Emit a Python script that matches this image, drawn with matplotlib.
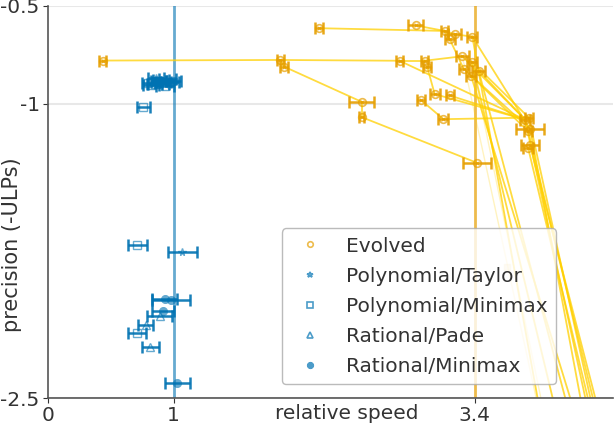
import matplotlib
matplotlib.use("Agg")
import matplotlib.pyplot as plt
from matplotlib.lines import Line2D

plt.rcParams['axes.unicode_minus'] = False

ORANGE = '#E69F00'
BLUE = '#0072B2'
GOLD = '#FFD000'

# evolved points: speed, precision, speed error
evo_x = [0.434, 1.85, 1.88, 2.16, 2.93, 3.16, 3.24, 3.20, 3.38, 2.80,
         3.00, 3.02, 3.30, 3.375, 3.31, 3.43, 3.37, 3.08, 3.20, 2.50,
         2.50, 2.97, 3.15, 3.415, 3.80, 3.83, 3.84, 3.825, 3.84, 3.825]
evo_y = [-0.779, -0.776, -0.81, -0.614, -0.60, -0.628, -0.645, -0.67, -0.657, -0.78,
         -0.78, -0.81, -0.757, -0.784, -0.82, -0.83, -0.857, -0.95, -0.957, -0.99,
         -1.068, -0.98, -1.078, -1.30, -1.08, -1.07, -1.128, -1.14, -1.21, -1.226]
evo_err = [0.03, 0.03, 0.03, 0.03, 0.06, 0.03, 0.05, 0.04, 0.04, 0.03,
           0.03, 0.03, 0.05, 0.04, 0.04, 0.05, 0.04, 0.04, 0.03, 0.10,
           0.02, 0.03, 0.04, 0.11, 0.04, 0.03, 0.11, 0.03, 0.075, 0.04]

# faint evolved point
faint_x = [3.66]
faint_y = [-1.83]

# lineage links between evolved points (index pairs)
links = [(0, 1), (1, 9), (9, 10), (10, 12), (1, 2), (2, 19), (19, 20), (20, 23),
         (3, 5), (4, 5), (5, 6), (6, 8), (5, 7), (7, 14), (11, 17),
         (9, 24), (17, 24), (18, 24), (21, 22), (22, 25),
         (12, 24), (13, 25), (14, 26), (15, 24), (16, 27), (8, 26)]

# links to descendants below the visible range
off_from = [8, 13, 15, 16, 24, 25, 27, 28, 29, 26]
off_x = [3.956, 4.095, 4.203, 4.256, 4.348, 4.389, 4.416, 4.44, 4.375, 4.30]
off_y = [-2.7, -2.7, -2.7, -2.7, -2.7, -2.7, -2.7, -2.7, -2.7, -2.7]

faint_from = [12, 13]
faint_to_x = [3.956, 3.99]
faint_to_y = [-2.7, -2.7]

# baselines
base = {
    'Polynomial/Taylor': dict(
        x=[1.07, 0.95, 0.92, 0.86], y=[-1.757, -0.875, -0.89, -0.87],
        err=[0.115, 0.07, 0.06, 0.06], marker='*'),
    'Polynomial/Minimax': dict(
        x=[0.71, 0.71, 0.76, 0.85, 0.88, 0.80], y=[-1.72, -2.17, -1.017, -0.90, -0.885, -0.895],
        err=[0.075, 0.07, 0.05, 0.06, 0.06, 0.05], marker='s'),
    'Rational/Pade': dict(
        x=[0.78, 0.815, 0.89, 0.90, 0.82, 0.93], y=[-2.128, -2.24, -2.08, -0.88, -0.905, -0.91],
        err=[0.06, 0.07, 0.1, 0.06, 0.06, 0.07], marker='^'),
    'Rational/Minimax': dict(
        x=[0.93, 0.98, 0.915, 1.03, 0.97, 1.00, 0.88], y=[-1.995, -2.0, -2.055, -2.425, -0.89, -0.885, -0.90],
        err=[0.1, 0.15, 0.09, 0.1, 0.07, 0.06, 0.08], marker='$\\circledast$'),
}

fig = plt.figure(figsize=(6.16, 4.3), dpi=100)
ax = fig.add_axes([0.078, 0.0744, 0.917, 0.912])

ax.axvline(1, color=BLUE, lw=2, alpha=0.6, zorder=1)
ax.axvline(3.4, color=ORANGE, lw=2, alpha=0.7, zorder=1)

for a, b in links:
    ax.plot([evo_x[a], evo_x[b]], [evo_y[a], evo_y[b]], color=GOLD, lw=1.3, alpha=0.75, zorder=2)
for i, a in enumerate(off_from):
    ax.plot([evo_x[a], off_x[i]], [evo_y[a], off_y[i]], color=GOLD, lw=1.3, alpha=0.75, zorder=2)
for i, a in enumerate(faint_from):
    ax.plot([evo_x[a], faint_to_x[i]], [evo_y[a], faint_to_y[i]], color=GOLD, lw=1.0, alpha=0.25, zorder=2)

ax.errorbar(evo_x, evo_y, xerr=evo_err, fmt='none', ecolor=ORANGE, elinewidth=1.8,
            capsize=4, capthick=1.8, alpha=0.9, zorder=3)
ax.plot(evo_x, evo_y, ls='none', marker='o', ms=5.5, mfc='none', mew=1.2, color=ORANGE, alpha=0.7, zorder=4)
ax.plot(evo_x, evo_y, ls='none', marker='x', ms=2.5, mew=0.8, color=ORANGE, alpha=0.7, zorder=4)
ax.plot(faint_x, faint_y, ls='none', marker='s', ms=5, color=ORANGE, alpha=0.2, zorder=4)

for name, d in base.items():
    ax.errorbar(d['x'], d['y'], xerr=d['err'], fmt='none', ecolor=BLUE, elinewidth=1.8,
                capsize=4, capthick=1.8, alpha=0.9, zorder=3)
    ax.plot(d['x'], d['y'], ls='none', marker=d['marker'], ms=5.5, mfc='none', mew=1.0,
            color=BLUE, alpha=0.6, zorder=4)

ax.set_xlim(0, 4.5)
ax.set_ylim(-2.5, -0.5)
ax.set_xticks([0, 1, 3.4])
ax.set_xticklabels(['0', '1', '3.4'])
ax.set_yticks([-0.5, -1, -2.5])
ax.set_yticklabels(['-0.5', '-1', '-2.5'])
ax.tick_params(labelsize=14.5, colors='#333333', length=3.5, pad=2.5)
ax.yaxis.grid(True, color='#e8e8e8', lw=1.5, zorder=0)
ax.set_axisbelow(True)
for s in ['top', 'right']:
    ax.spines[s].set_visible(False)
for s in ['left', 'bottom']:
    ax.spines[s].set_color('#555555')
    ax.spines[s].set_linewidth(1.2)

ax.set_xlabel('relative speed', fontsize=14.5, color='#333333')
ax.xaxis.set_label_coords(0.529, -0.015, transform=ax.transAxes)
ax.xaxis.label.set_verticalalignment('top')
ax.set_ylabel('precision (-ULPs)', fontsize=15, color='#333333', va='center')
ax.yaxis.set_label_coords(-0.064, 0.39)

handles = [Line2D([], [], ls='none', marker='o', ms=4, mfc='none', mew=1.2, color=ORANGE, alpha=0.7)]
for name, d in base.items():
    handles.append(Line2D([], [], ls='none', marker=d['marker'], ms=4, mfc='none', mew=1.2,
                          color=BLUE, alpha=0.7))
labels = ['Evolved'] + list(base.keys())
leg = ax.legend(handles, labels, loc='lower left', bbox_to_anchor=(0.414, 0.036),
                borderaxespad=0, fontsize=14.5, labelspacing=0.55, frameon=True)
leg.get_frame().set_edgecolor('#aaaaaa')
for t in leg.get_texts():
    t.set_color('#333333')

fig.savefig('out.png', dpi=100)
